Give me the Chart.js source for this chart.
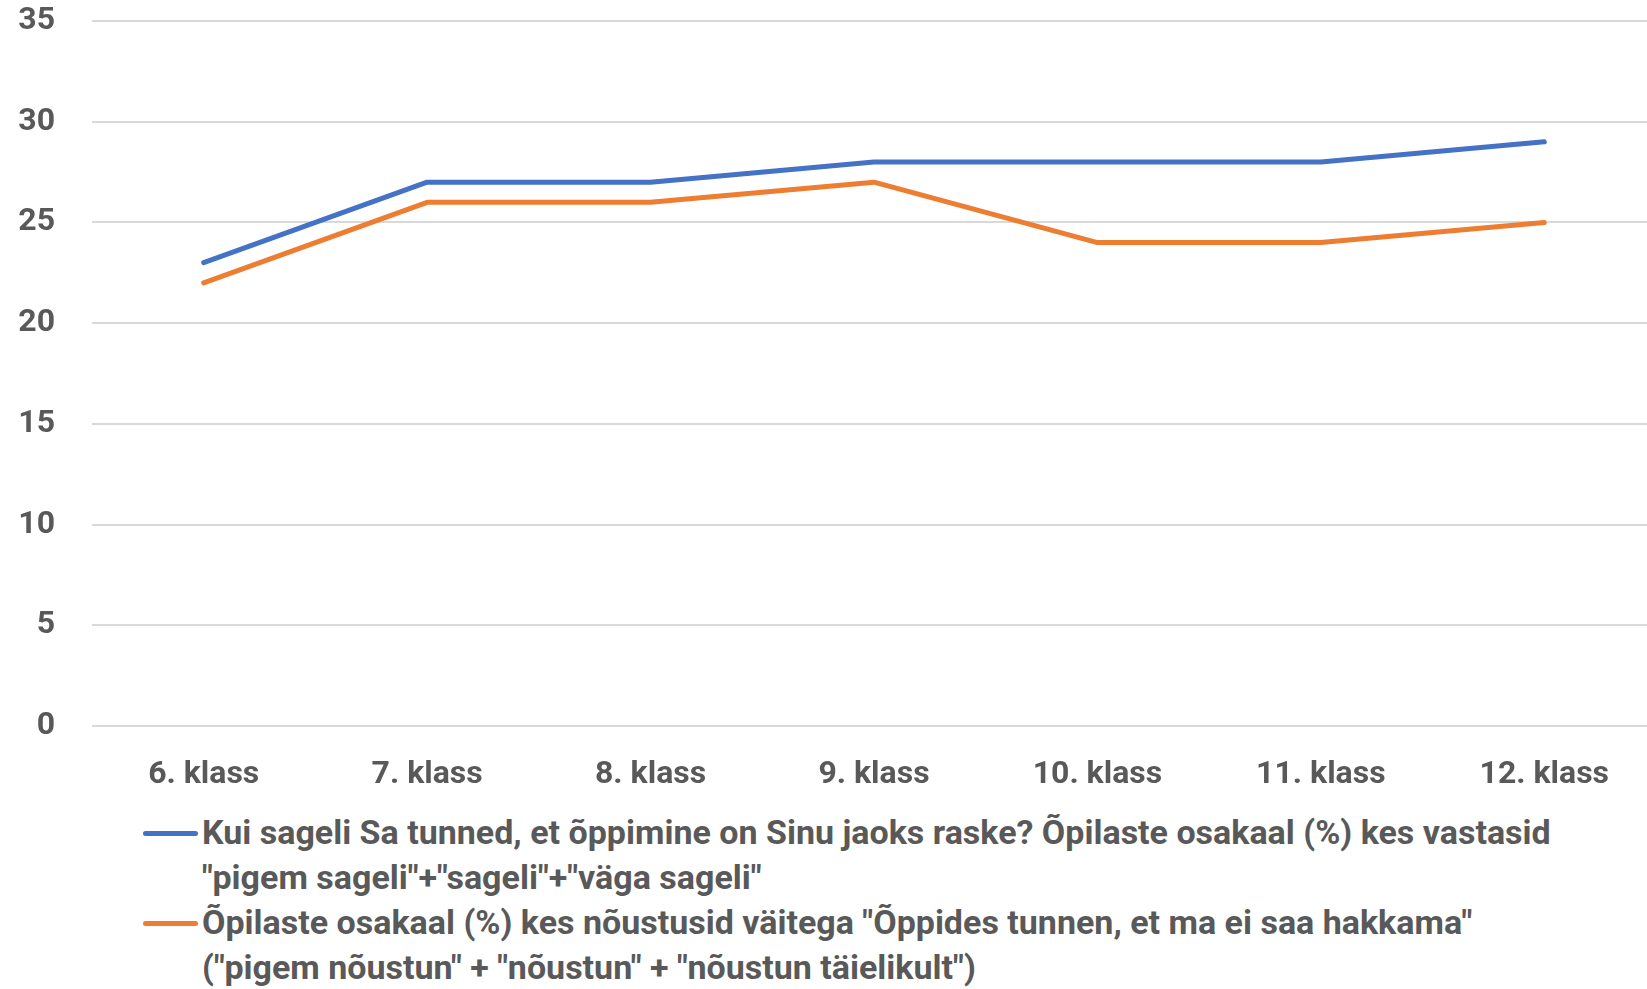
<!DOCTYPE html>
<html>
<head>
<meta charset="utf-8">
<script src="https://cdn.jsdelivr.net/npm/chart.js@4.4.1/dist/chart.umd.min.js"></script>
<style>
    html, body { margin: 0; padding: 0; background: #fff; overflow: hidden; }
    #wrap { position: relative; width: 1656px; height: 989px; }
    #chart { position: absolute; left: 0; top: 0; }
    #legend {
        position: absolute; left: 143px; top: 810px;
        font-family: "Liberation Sans Narrow", "Roboto", sans-serif;
        font-weight: bold; font-size: 34px; line-height: 45px; color: #595959;
    }
    .item { display: flex; align-items: flex-start; }
    .swatch { flex: none; width: 55px; height: 5px; border-radius: 3px; margin-top: 21px; margin-right: 4px; }
    .label { white-space: pre-line; }
</style>
</head>
<body>
<div id="wrap">
    <canvas id="chart" width="1656" height="800"></canvas>
    <div id="legend"></div>
</div>
<script>
document.addEventListener("DOMContentLoaded", () => {
    // categories and series
    const classes = ['6. klass', '7. klass', '8. klass', '9. klass', '10. klass', '11. klass', '12. klass'];
    const seriesNames = [
        'Kui sageli Sa tunned, et õppimine on Sinu jaoks raske? Õpilaste osakaal (%) kes vastasid\n"pigem sageli"+"sageli"+"väga sageli"',
        'Õpilaste osakaal (%) kes nõustusid väitega "Õppides tunnen, et ma ei saa hakkama"\n("pigem nõustun" + "nõustun" + "nõustun täielikult")'
    ];
    const learningHard = [23, 27, 27, 28, 28, 28, 29];
    const cannotCope = [22, 26, 26, 27, 24, 24, 25];
    const seriesColors = ['#4472C4', '#ED7D31'];
    const yMin = 0, yMax = 35, yStep = 5;

    const font = '"Liberation Sans Narrow", "Roboto", sans-serif';
    const textColor = '#595959';

    const chart = new Chart(document.getElementById('chart'), {
        type: 'line',
        data: {
            labels: classes,
            datasets: [learningHard, cannotCope].map((values, i) => ({
                label: seriesNames[i],
                data: values,
                borderColor: seriesColors[i],
                backgroundColor: seriesColors[i],
                borderWidth: 5,
                borderCapStyle: 'round',
                borderJoinStyle: 'round',
                pointRadius: 0,
                tension: 0
            }))
        },
        options: {
            responsive: false,
            animation: false,
            layout: { padding: { top: 21, left: 0, right: 0, bottom: 0 } },
            plugins: { legend: { display: false }, tooltip: { enabled: false } },
            scales: {
                x: {
                    offset: true,
                    grid: { display: false, drawTicks: false },
                    border: { display: false },
                    ticks: { color: textColor, padding: 30, maxRotation: 0, autoSkip: false,
                             font: { family: font, size: 32, weight: 'bold' } },
                    afterFit(scale) {
                        scale.height = 74;
                        scale.paddingLeft = 0;
                        scale.paddingRight = 0;
                    }
                },
                y: {
                    min: yMin, max: yMax,
                    grid: { color: '#D9D9D9', lineWidth: 2, drawTicks: false },
                    border: { display: false },
                    ticks: { stepSize: yStep, color: textColor, padding: 37,
                             font: { family: font, size: 32, weight: 'bold' } },
                    afterFit(scale) {
                        scale.width = 92;
                        scale.paddingTop = 0;
                        scale.paddingBottom = 0;
                    }
                }
            }
        }
    });

    // legend below the chart
    const legend = document.getElementById('legend');
    chart.data.datasets.forEach(ds => {
        const item = document.createElement('div');
        item.className = 'item';
        item.innerHTML = `<span class="swatch" style="background:${ds.borderColor}"></span><span class="label"></span>`;
        item.querySelector('.label').textContent = ds.label;
        legend.appendChild(item);
    });
});
</script>
</body>
</html>
